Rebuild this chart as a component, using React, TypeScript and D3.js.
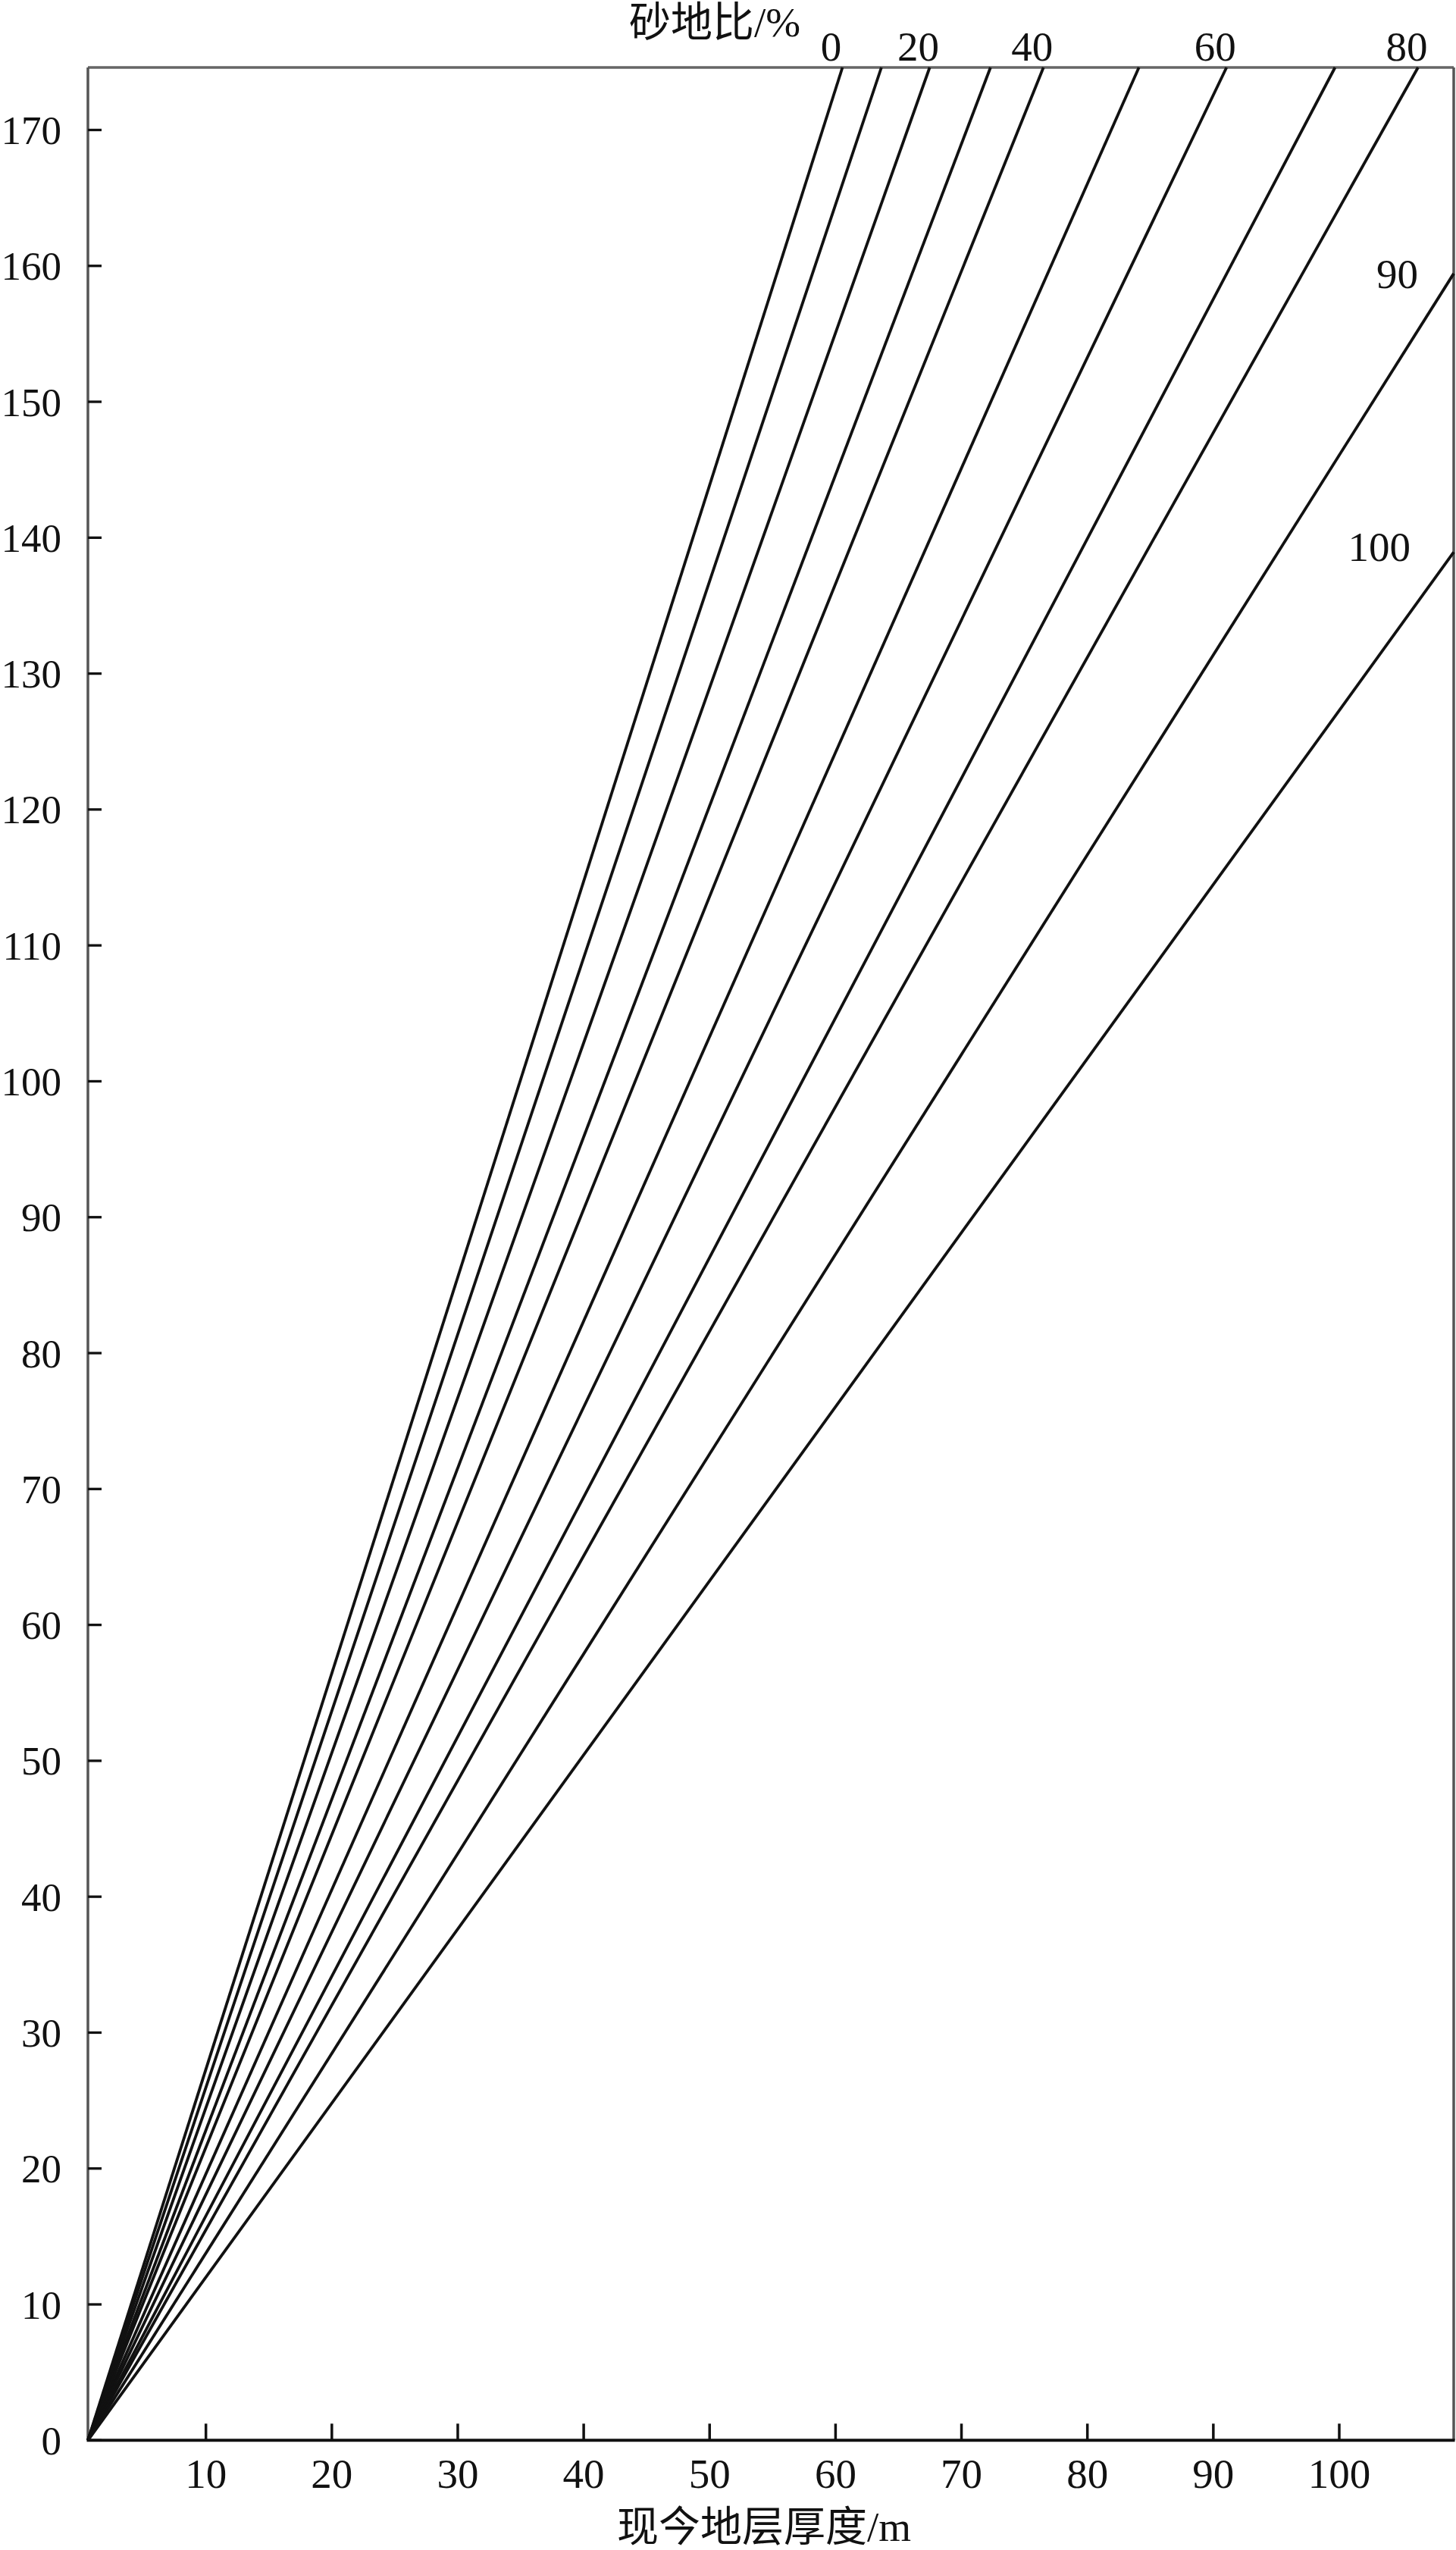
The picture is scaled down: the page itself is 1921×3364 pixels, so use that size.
import React from "react";
import * as d3 from "d3";

// ---- Data ----
const sandRatios = [0, 10, 20, 30, 40, 50, 60, 70, 80, 90, 100];
// original thickness / present thickness for each sand ratio line
const decompactionFactors = [2.914, 2.771, 2.612, 2.436, 2.301, 2.092, 1.931, 1.763, 1.653, 1.47, 1.281];
const labeledRatios = [0, 20, 40, 60, 80, 90, 100];
const xTickValues = [10, 20, 30, 40, 50, 60, 70, 80, 90, 100];
const yTickValues = [0, 10, 20, 30, 40, 50, 60, 70, 80, 90, 100, 110, 120, 130, 140, 150, 160, 170];
const xDomain = [0.63, 109.09];
const yDomain = [0, 174.6];
const topTitle = "砂地比/%";
const bottomTitle = "现今地层厚度/m";

const W = 1921;
const H = 3364;
const left = 116;
const right = 1918;
const top = 89;
const bottom = 3219.3;
const FONT = '"Liberation Serif", "Noto Sans CJK SC", serif';
const FS = 55;

export default function App() {
  const x = d3.scaleLinear().domain(xDomain).range([left, right]);
  const y = d3.scaleLinear().domain(yDomain).range([bottom, top]);
  const line = d3.line<[number, number]>().x((d) => x(d[0])).y((d) => y(d[1]));

  const lines = sandRatios.map((r, i) => {
    const k = decompactionFactors[i];
    const x0 = xDomain[0];
    const xEnd = Math.min(xDomain[1], x0 + yDomain[1] / k);
    const yEnd = k * (xEnd - x0);
    return { r, pts: [[x0, 0], [xEnd, yEnd]] as [number, number][], xEnd, yEnd, atTop: xEnd < xDomain[1] };
  });

  return (
    <div style={{ position: "absolute", left: 0, top: 0 }}>
      <svg width={W} height={H} style={{ display: "block", background: "#fff" }}>
        {/* frame */}
        <line x1={left} y1={top} x2={right} y2={top} stroke="#666" strokeWidth={3.5} />
        <line x1={left} y1={top} x2={left} y2={bottom} stroke="#555" strokeWidth={3.5} />
        <line x1={right} y1={top} x2={right} y2={bottom} stroke="#555" strokeWidth={3.5} />
        <line x1={left - 1.5} y1={bottom} x2={right + 1.5} y2={bottom} stroke="#111" strokeWidth={4} />

        {/* y ticks */}
        {yTickValues.map((v) => (
          <g key={"y" + v}>
            <line x1={left} x2={left + 18} y1={y(v)} y2={y(v)} stroke="#111" strokeWidth={3.3} />
            <text
              x={81}
              y={y(v)}
              dy="0.35em"
              textAnchor="end"
              fontFamily={FONT}
              fontSize={53}
              fill="#111"
            >
              {v}
            </text>
          </g>
        ))}

        {/* x ticks */}
        {xTickValues.map((v) => (
          <g key={"x" + v}>
            <line x1={x(v)} x2={x(v)} y1={bottom} y2={bottom - 22} stroke="#111" strokeWidth={3.5} />
            <text x={x(v)} y={3282} textAnchor="middle" fontFamily={FONT} fontSize={FS} fill="#111">
              {v}
            </text>
          </g>
        ))}

        {/* sand ratio lines */}
        {lines.map((l) => (
          <path key={"l" + l.r} d={line(l.pts) || ""} fill="none" stroke="#111" strokeWidth={3.8} />
        ))}

        {/* line labels */}
        {lines
          .filter((l) => labeledRatios.includes(l.r))
          .map((l) =>
            l.atTop ? (
              <text
                key={"t" + l.r}
                x={x(l.xEnd) - 15}
                y={80}
                textAnchor="middle"
                fontFamily={FONT}
                fontSize={FS}
                fill="#111"
              >
                {l.r}
              </text>
            ) : (
              <text
                key={"t" + l.r}
                x={x(l.xEnd) - (l.r === 100 ? 57 : 47)}
                y={y(l.yEnd) + (l.r === 100 ? 12 : 19)}
                textAnchor="end"
                fontFamily={FONT}
                fontSize={FS}
                fill="#111"
              >
                {l.r}
              </text>
            )
          )}

        {/* titles */}
        <text x={943} y={48} textAnchor="middle" fontFamily={FONT} fontSize={FS} fill="#111">
          {topTitle}
        </text>
        <text x={1008} y={3352} textAnchor="middle" fontFamily={FONT} fontSize={FS} fill="#111">
          {bottomTitle}
        </text>
      </svg>
    </div>
  );
}
